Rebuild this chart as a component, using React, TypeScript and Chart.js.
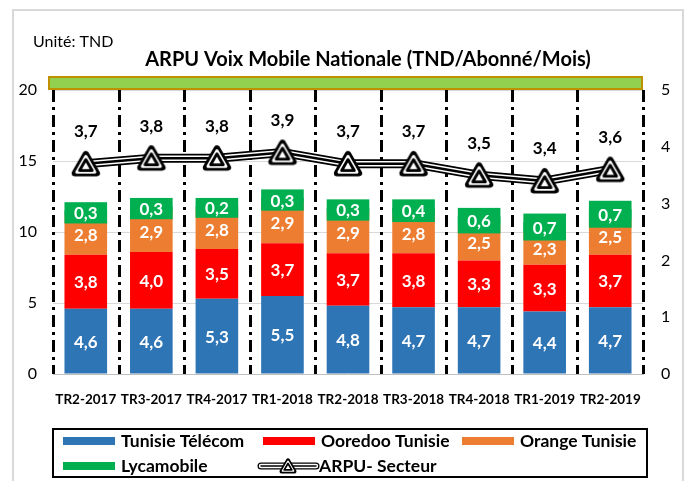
import React, { useEffect, useRef } from "react";
import { Chart, registerables } from "chart.js";
Chart.register(...registerables);

const categories = ["TR2-2017", "TR3-2017", "TR4-2017", "TR1-2018", "TR2-2018", "TR3-2018", "TR4-2018", "TR1-2019", "TR2-2019"];
const tunisieTelecom = [4.6, 4.6, 5.3, 5.5, 4.8, 4.7, 4.7, 4.4, 4.7];
const ooredoo = [3.8, 4.0, 3.5, 3.7, 3.7, 3.8, 3.3, 3.3, 3.7];
const orange = [2.8, 2.9, 2.8, 2.9, 2.9, 2.8, 2.5, 2.3, 2.5];
const lyca = [0.3, 0.3, 0.2, 0.3, 0.3, 0.4, 0.6, 0.7, 0.7];
const arpuSecteur = [3.7, 3.8, 3.8, 3.9, 3.7, 3.7, 3.5, 3.4, 3.6];
const leftMax = 20;
const leftStep = 5;
const rightMax = 5;
const rightStep = 1;

const FONT = "Lato, 'Open Sans', sans-serif";
const C_TT = "#2E75B6";
const C_OO = "#FF0000";
const C_OR = "#ED7D31";
const C_LY = "#00B050";

function fmt(v: number) {
  return v.toFixed(1).replace(".", ",");
}

function makeMarker(scale: number) {
  const W = Math.ceil(32 * scale);
  const H = Math.ceil(30 * scale);
  const c = document.createElement("canvas");
  c.width = W;
  c.height = H;
  const ctx = c.getContext("2d")!;
  const cx = W / 2;
  const cy = H / 2 + 3 * scale;
  const layers: [number, number, string][] = [
    [6.3, 6.5, "#000"],
    [5.2, 3, "#fff"],
    [3.6, 3, "#000"],
    [2.2, 0, "#fff"],
  ];
  for (const [inr, lw, col] of layers) {
    const r = 2 * inr * scale;
    ctx.beginPath();
    ctx.moveTo(cx, cy - r);
    ctx.lineTo(cx + r * Math.cos(Math.PI / 6), cy + r / 2);
    ctx.lineTo(cx - r * Math.cos(Math.PI / 6), cy + r / 2);
    ctx.closePath();
    ctx.fillStyle = col;
    ctx.fill();
    if (lw > 0) {
      ctx.lineWidth = lw * scale;
      ctx.lineJoin = "round";
      ctx.strokeStyle = col;
      ctx.stroke();
    }
  }
  return c;
}

export default function App() {
  const ref = useRef<HTMLCanvasElement>(null);

  useEffect(() => {
    const canvas = ref.current!;
    const marker = makeMarker(1);
    const legendMarker = makeMarker(0.6);

    const decor = {
      id: "decor",
      beforeDraw(chart: any) {
        const ctx = chart.ctx;
        ctx.save();
        ctx.fillStyle = "#fff";
        ctx.fillRect(0, 0, chart.width, chart.height);
        ctx.strokeStyle = "#d9d9d9";
        ctx.lineWidth = 2;
        ctx.strokeRect(13, 10, 670, 490);
        ctx.fillStyle = "#000";
        ctx.textBaseline = "middle";
        ctx.textAlign = "left";
        ctx.font = `16px ${FONT}`;
        ctx.fillText("Unité: TND", 33, 42);
        ctx.font = `bold 20px ${FONT}`;
        ctx.textAlign = "center";
        ctx.fillText("ARPU Voix Mobile Nationale (TND/Abonné/Mois)", 368, 60);
        ctx.restore();
      },
      beforeDatasetsDraw(chart: any) {
        const ctx = chart.ctx;
        const xs = chart.scales.x;
        const { top, bottom } = chart.chartArea;
        ctx.save();
        ctx.strokeStyle = "#000";
        ctx.lineWidth = 3;
        ctx.setLineDash([12, 5, 3, 5]);
        for (let i = 0; i <= categories.length; i++) {
          const x = Math.round(xs.getPixelForValue(i - 0.5)) + 0.5;
          ctx.beginPath();
          ctx.moveTo(x, top);
          ctx.lineTo(x, bottom);
          ctx.stroke();
        }
        ctx.restore();
      },
      afterDatasetDraw(chart: any, args: any) {
        if (args.index !== 0) return;
        const ctx = chart.ctx;
        ctx.save();
        const lyMeta = chart.getDatasetMeta(3);
        lyMeta.data.forEach((el: any) => {
          const h = Math.abs(el.base - el.y) + 17;
          const cy = (el.y + el.base) / 2;
          ctx.fillStyle = C_LY;
          ctx.fillRect(el.x - el.width / 2, cy - h / 2, el.width, h);
        });
        ctx.fillStyle = "#fff";
        ctx.font = `bold 17px ${FONT}`;
        ctx.textAlign = "center";
        ctx.textBaseline = "middle";
        for (let d = 0; d < 4; d++) {
          const meta = chart.getDatasetMeta(d);
          const vals = chart.data.datasets[d].data as number[];
          meta.data.forEach((el: any, i: number) => {
            ctx.fillText(fmt(vals[i]), el.x, (el.y + el.base) / 2 + 1);
          });
        }
        ctx.restore();
      },
      afterDatasetsDraw(chart: any) {
        const ctx = chart.ctx;
        const { left, right, top } = chart.chartArea;
        ctx.save();
        ctx.fillStyle = "#92D050";
        ctx.strokeStyle = "#BF9000";
        ctx.lineWidth = 2;
        ctx.fillRect(left - 5, top - 14, right - left + 5, 14);
        ctx.strokeRect(left - 4, top - 13, right - left + 3, 12);
        const meta = chart.getDatasetMeta(6);
        ctx.fillStyle = "#000";
        ctx.font = `bold 17px ${FONT}`;
        ctx.textAlign = "center";
        ctx.textBaseline = "middle";
        meta.data.forEach((el: any, i: number) => {
          ctx.fillText(fmt(arpuSecteur[i]), el.x, el.y - 32);
        });
        ctx.restore();
      },
      afterDraw(chart: any) {
        const ctx = chart.ctx;
        ctx.save();
        ctx.strokeStyle = "#000";
        ctx.lineWidth = 2;
        ctx.strokeRect(53, 429, 594, 48);
        ctx.font = `bold 17.5px ${FONT}`;
        ctx.textBaseline = "middle";
        ctx.textAlign = "left";
        const items: [string, string, number, number][] = [
          ["Tunisie Télécom", C_TT, 63, 441],
          ["Ooredoo Tunisie", C_OO, 263, 441],
          ["Orange Tunisie", C_OR, 462, 441],
          ["Lycamobile", C_LY, 63, 466],
        ];
        for (const [label, col, x, y] of items) {
          ctx.fillStyle = col;
          ctx.fillRect(x, y - 4, 52, 8);
          ctx.fillStyle = "#000";
          ctx.fillText(label, x + 58, y);
        }
        const ly = 466;
        const lx0 = 261;
        const lx1 = 316;
        const widths: [number, string][] = [[7, "#000"], [4.5, "#fff"], [1.5, "#000"]];
        for (const [w, c] of widths) {
          ctx.strokeStyle = c;
          ctx.lineWidth = w;
          ctx.lineCap = "round";
          ctx.beginPath();
          ctx.moveTo(lx0, ly);
          ctx.lineTo(lx1, ly);
          ctx.stroke();
        }
        ctx.drawImage(legendMarker, 288 - legendMarker.width / 2, ly - legendMarker.height / 2);
        ctx.fillStyle = "#000";
        ctx.fillText("ARPU- Secteur", 319, ly);
        ctx.restore();
      },
    };

    const chart = new Chart(canvas, {
      type: "bar",
      data: {
        labels: categories,
        datasets: [
          { type: "bar", label: "Tunisie Télécom", data: tunisieTelecom, backgroundColor: C_TT, order: 10, yAxisID: "y" },
          { type: "bar", label: "Ooredoo Tunisie", data: ooredoo, backgroundColor: C_OO, order: 10, yAxisID: "y" },
          { type: "bar", label: "Orange Tunisie", data: orange, backgroundColor: C_OR, order: 10, yAxisID: "y" },
          { type: "bar", label: "Lycamobile", data: lyca, backgroundColor: C_LY, order: 10, yAxisID: "y" },
          { type: "line", label: "outer", data: arpuSecteur, borderColor: "#000", borderWidth: 9, pointRadius: 0, order: 3, yAxisID: "y1", tension: 0 },
          { type: "line", label: "mid", data: arpuSecteur, borderColor: "#fff", borderWidth: 5.5, pointRadius: 0, order: 2, yAxisID: "y1", tension: 0 },
          { type: "line", label: "ARPU- Secteur", data: arpuSecteur, borderColor: "#000", borderWidth: 2.5, pointStyle: marker as any, pointRadius: 5, order: 1, yAxisID: "y1", tension: 0 },
        ] as any,
      },
      options: {
        responsive: false,
        maintainAspectRatio: false,
        devicePixelRatio: 1,
        animation: false,
        layout: { padding: { left: 13, right: 6, top: 90, bottom: 77 } },
        datasets: { bar: { categoryPercentage: 1, barPercentage: 0.65, borderWidth: 0 } } as any,
        plugins: {
          legend: { display: false },
          tooltip: { enabled: false },
          title: { display: false },
        },
        scales: {
          x: {
            stacked: true,
            offset: true,
            grid: { display: false },
            border: { display: true, color: "#bfbfbf", width: 1 },
            ticks: { color: "#000", font: { family: FONT, size: 13.5, weight: "bold" }, padding: 10, maxRotation: 0, autoSkip: false },
            afterFit: (s: any) => { s.height = 30; },
          },
          y: {
            stacked: true,
            position: "left",
            min: 0,
            max: leftMax,
            ticks: { stepSize: leftStep, color: "#000", font: { family: FONT, size: 16 }, padding: 16 },
            grid: { color: (c: any) => (c.tick && c.tick.value === 0 ? "rgba(0,0,0,0)" : "#d9d9d9"), drawTicks: false, lineWidth: 1 },
            border: { display: false },
            afterFit: (s: any) => { s.width = 40; },
          },
          y1: {
            position: "right",
            min: 0,
            max: rightMax,
            ticks: { stepSize: rightStep, color: "#000", font: { family: FONT, size: 16 }, padding: 18 },
            grid: { display: false, drawTicks: false },
            border: { display: false },
            afterFit: (s: any) => { s.width = 40; },
          },
        } as any,
      },
      plugins: [decor],
    });
    return () => chart.destroy();
  }, []);

  return (
    <div style={{ position: "fixed", left: 0, top: 0, width: 689, height: 481, background: "#fff" }}>
      <canvas ref={ref} width={689} height={481} style={{ display: "block", width: 689, height: 481 }} />
    </div>
  );
}
